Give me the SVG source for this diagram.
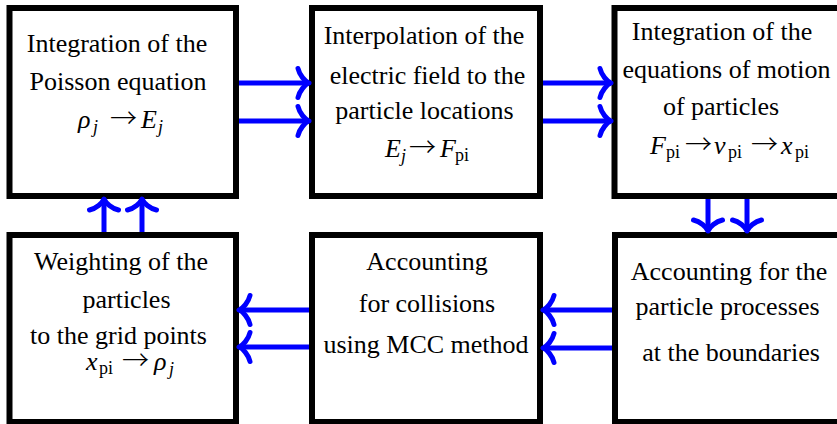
<svg xmlns="http://www.w3.org/2000/svg" width="837" height="424" viewBox="0 0 837 424" font-family="'Liberation Serif', 'Times New Roman', Times, serif">
<style>
.box{fill:#fff;stroke:#000;stroke-width:6}
.t{font-family:'Liberation Serif','Times New Roman',Times,serif;font-size:26px;fill:#000;text-anchor:middle}
.m{font-family:'Liberation Serif','Times New Roman',Times,serif;font-size:26px;fill:#000}
.i{font-style:italic}
.s{font-size:18px}
.a{font-family:'Noto Sans CJK SC','DejaVu Sans',sans-serif;font-size:27px;font-weight:300}
.c{fill:none;stroke:#0000ff;stroke-width:5}
.h{fill:none;stroke:#0000ff;stroke-width:5;stroke-linecap:round;stroke-linejoin:round}
</style>
<defs>
<marker id="arr" markerUnits="userSpaceOnUse" viewBox="-16 -18 20 36" refX="0" refY="0" markerWidth="20" markerHeight="36" orient="auto" overflow="visible">
<path class="h" d="M-11,-14.5 C-9.5,-8 -4,-1.5 0,0 C-4,1.5 -9.5,8 -11,14.5"/>
</marker>
</defs>
<rect width="837" height="424" fill="#fff"/>
<g id="n1">
<rect class="box" x="9.5" y="8" width="226.5" height="188"/>
<text class="t" x="117" y="52">Integration of the</text>
<text class="t" x="118" y="90">Poisson equation</text>
<text class="m" y="128"><tspan class="i" x="78">ρ</tspan><tspan class="i s" x="93" dy="5">j</tspan><tspan class="a" x="110" dy="-5">→</tspan><tspan class="i" x="141">E</tspan><tspan class="i s" x="158" dy="5">j</tspan></text>
</g>
<g id="n2">
<rect class="box" x="312" y="8" width="228" height="188"/>
<text class="t" x="424" y="44">Interpolation of the</text>
<text class="t" x="427.5" y="84">electric field to the</text>
<text class="t" x="424.5" y="119">particle locations</text>
<text class="m" y="157"><tspan class="i" x="385">E</tspan><tspan class="i s" x="401" dy="5">j</tspan><tspan class="a" x="409" dy="-5">→</tspan><tspan class="i" x="440">F</tspan><tspan class="s" x="455" dy="4">pi</tspan></text>
</g>
<g id="n3">
<rect class="box" x="614.5" y="8" width="240" height="188"/>
<text class="t" x="722" y="40">Integration of the</text>
<text class="t" x="726.5" y="78">equations of motion</text>
<text class="t" x="721" y="115">of particles</text>
<text class="m" y="154"><tspan class="i" x="650">F</tspan><tspan class="s" x="666" dy="4">pi</tspan><tspan class="a" x="685" dy="-4">→</tspan><tspan class="i" x="714">v</tspan><tspan class="s" x="728" dy="4">pi</tspan><tspan class="a" x="751" dy="-4">→</tspan><tspan class="i" x="781">x</tspan><tspan class="s" x="795" dy="4">pi</tspan></text>
</g>
<g id="n4">
<rect class="box" x="9.5" y="235" width="226.5" height="187"/>
<text class="t" x="121" y="270">Weighting of the</text>
<text class="t" x="126.5" y="308">particles</text>
<text class="t" x="118.5" y="344">to the grid points</text>
<text class="m" y="370"><tspan class="i" x="86">x</tspan><tspan class="s" x="99" dy="4">pi</tspan><tspan class="a" x="122" dy="-4">→</tspan><tspan class="i" x="154">ρ</tspan><tspan class="i s" x="169" dy="5">j</tspan></text>
</g>
<g id="n5">
<rect class="box" x="312" y="235" width="228" height="187"/>
<text class="t" x="427" y="270">Accounting</text>
<text class="t" x="427" y="312">for collisions</text>
<text class="t" x="426" y="353">using MCC method</text>
</g>
<g id="n6">
<rect class="box" x="615" y="235" width="240" height="187"/>
<text class="t" x="729" y="280">Accounting for the</text>
<text class="t" x="727.5" y="315">particle processes</text>
<text class="t" x="731" y="361">at the boundaries</text>
</g>
<g id="connectors">
<line class="c" x1="239" y1="83" x2="309" y2="83" marker-end="url(#arr)"/>
<line class="c" x1="239" y1="121" x2="309" y2="121" marker-end="url(#arr)"/>
<line class="c" x1="543" y1="83" x2="611" y2="83" marker-end="url(#arr)"/>
<line class="c" x1="543" y1="121" x2="611" y2="121" marker-end="url(#arr)"/>
<line class="c" x1="708" y1="199" x2="708" y2="231" marker-end="url(#arr)"/>
<line class="c" x1="747" y1="199" x2="747" y2="231" marker-end="url(#arr)"/>
<line class="c" x1="612" y1="310" x2="543" y2="310" marker-end="url(#arr)"/>
<line class="c" x1="612" y1="348" x2="543" y2="348" marker-end="url(#arr)"/>
<line class="c" x1="309" y1="310" x2="239" y2="310" marker-end="url(#arr)"/>
<line class="c" x1="309" y1="347" x2="239" y2="347" marker-end="url(#arr)"/>
<line class="c" x1="104" y1="232" x2="104" y2="199" marker-end="url(#arr)"/>
<line class="c" x1="142" y1="232" x2="142" y2="199" marker-end="url(#arr)"/>
</g>
</svg>
